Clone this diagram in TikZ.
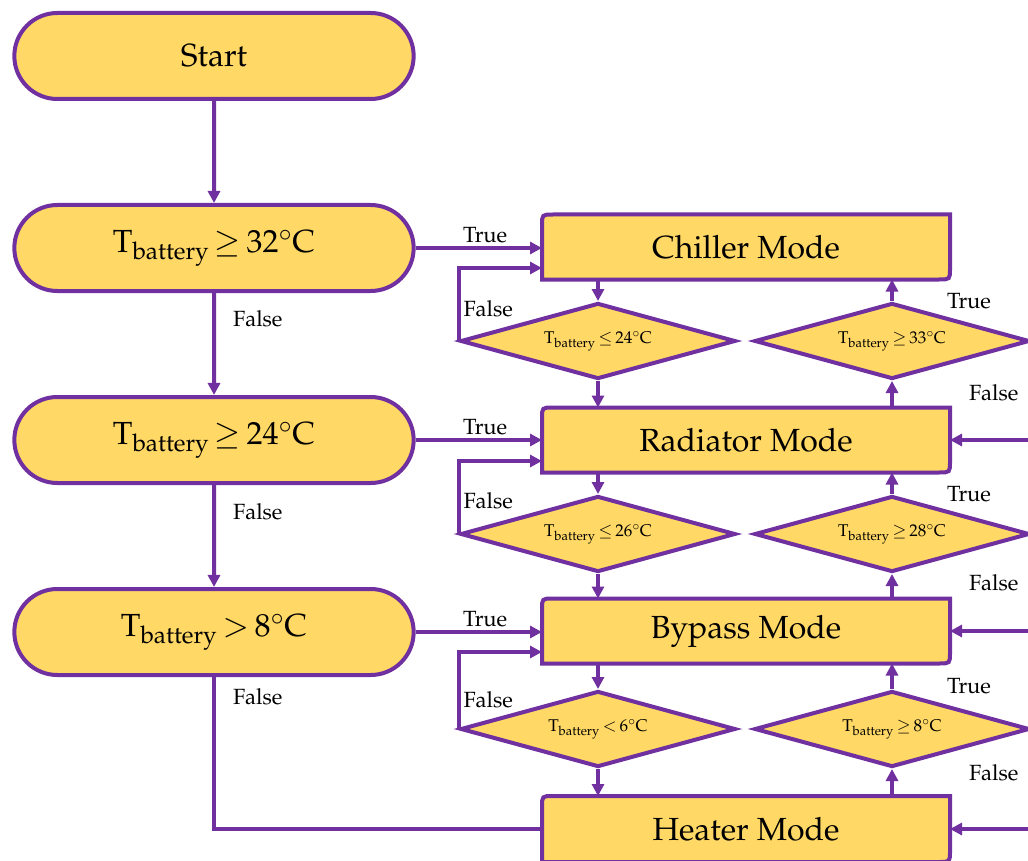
\documentclass[tikz,border=0pt]{standalone}
\usepackage[T1]{fontenc}
\usepackage{mathpazo}
\usetikzlibrary{shapes.misc,shapes.geometric,arrows.meta,backgrounds}

\definecolor{flowfill}{RGB}{255,216,102}
\definecolor{flowline}{RGB}{112,48,160}

\tikzset{
  term/.style={rounded rectangle, draw=flowline, fill=flowfill, line width=4pt,
    minimum width=406pt, minimum height=86pt, font=\fontsize{32}{38}\selectfont},
  modebox/.style={rectangle, minimum width=408pt, minimum height=65pt,
    inner sep=0pt, outer sep=0pt, font=\fontsize{32}{38}\selectfont},
  cond/.style={diamond, aspect=3.5, draw=flowline, fill=flowfill, line width=4pt,
    minimum width=275pt, minimum height=76pt, inner sep=0pt,
    font=\fontsize{17}{21}\selectfont},
  flow/.style={draw=flowline, line width=4pt, ->},
  lbl/.style={font=\fontsize{22}{26}\selectfont, inner sep=3pt},
}

\newcommand{\tbat}{\mathrm{T}_{\mathrm{battery}}}

\begin{document}
\begin{tikzpicture}[x=1pt, y=-1pt, >={Triangle[length=12pt,width=12pt]}]

        \useasboundingbox (0,0) rectangle (1028,861);

        \node[term] (start) at (214,56)  {Start};
        \node[term] (hot)   at (214,248) {$\tbat\,{\geq}\,32^{\circ}\mathrm{C}$};
        \node[term] (warm)  at (214,440) {$\tbat\,{\geq}\,24^{\circ}\mathrm{C}$};
        \node[term] (mild)  at (214,632) {$\tbat\,{>}\,8^{\circ}\mathrm{C}$};

        \node[modebox] (chiller)  at (746,247) {Chiller Mode};
        \node[modebox] (radiator) at (746,440) {Radiator Mode};
        \node[modebox] (bypass)   at (746,631) {Bypass Mode};
        \node[modebox, minimum height=66pt] (heater) at (746,829) {Heater Mode};

        \node[cond] (down1) at (598,341) {$\tbat\,{\leq}\,24^{\circ}\mathrm{C}$};
        \node[cond] (up1)   at (892,341) {$\tbat\,{\geq}\,33^{\circ}\mathrm{C}$};
        \node[cond] (down2) at (598,534) {$\tbat\,{\leq}\,26^{\circ}\mathrm{C}$};
        \node[cond] (up2)   at (892,534) {$\tbat\,{\geq}\,28^{\circ}\mathrm{C}$};
        \node[cond] (down3) at (598,729) {$\tbat\,{<}\,6^{\circ}\mathrm{C}$};
        \node[cond] (up3)   at (892,729) {$\tbat\,{\geq}\,8^{\circ}\mathrm{C}$};

        % mode boxes: top left and bottom right corners rounded
        \begin{scope}[on background layer]
        \foreach \m in {chiller,radiator,bypass,heater}
          \draw[draw=flowline, fill=flowfill, line width=4pt]
            (\m.north east) -- ([yshift=11pt]\m.south east)
            .. controls (\m.south east) .. ([xshift=-11pt]\m.south east)
            -- (\m.south west) -- ([yshift=-11pt]\m.north west)
            .. controls (\m.north west) .. ([xshift=11pt]\m.north west) -- cycle;
        \end{scope}

        \draw[flow] (start) -- (hot);
        \draw[flow] (hot) -- node[lbl, right=14pt, pos=0.25] {False} (warm);
        \draw[flow] (warm) -- node[lbl, right=14pt, pos=0.26] {False} (mild);
        \draw[flow, -] (mild.south) |- node[lbl, right=14pt, pos=0.065] {False} (heater.west);

        \draw[flow] (hot.east) -- node[lbl, above, pos=0.55] {True} (hot.east -| chiller.west);
        \draw[flow] (warm.east) -- node[lbl, above, pos=0.55] {True} (warm.east -| radiator.west);
        \draw[flow] (mild.east) -- node[lbl, above, pos=0.55] {True} (mild.east -| bypass.west);

        \draw[flow] (down1.west) |- node[lbl, right, pos=0.22] {False} ([yshift=-21pt]chiller.west);
        \draw[flow] (down2.west) |- node[lbl, right, pos=0.23] {False} ([yshift=-21pt]radiator.west);
        \draw[flow] (down3.west) |- node[lbl, right, pos=0.19] {False} ([yshift=-21pt]bypass.west);

        \draw[flow] (down1 |- chiller.south) -- (down1.north);
        \draw[flow] (down1.south) -- (down1 |- radiator.north);
        \draw[flow] (down2 |- radiator.south) -- (down2.north);
        \draw[flow] (down2.south) -- (down2 |- bypass.north);
        \draw[flow] (down3 |- bypass.south) -- (down3.north);
        \draw[flow] (down3.south) -- (down3 |- heater.north);

        \draw[flow] (up1 |- radiator.north) -- (up1.south);
        \draw[flow] (up1.north) -- node[lbl, pos=0, anchor=west, xshift=50pt] {True} (up1 |- chiller.south);
        \draw[flow] (up2 |- bypass.north) -- (up2.south);
        \draw[flow] (up2.north) -- node[lbl, pos=0, anchor=west, xshift=50pt] {True} (up2 |- radiator.south);
        \draw[flow] (up3 |- heater.north) -- (up3.south);
        \draw[flow] (up3.north) -- node[lbl, pos=0, anchor=west, xshift=50pt, yshift=3pt] {True} (up3 |- bypass.south);

        \draw[flow] (up1.east) |- node[lbl, pos=0.26, left=8pt] {False} (radiator.east);
        \draw[flow] (up2.east) |- node[lbl, pos=0.25, left=8pt] {False} (bypass.east);
        \draw[flow] (up3.east) |- node[lbl, pos=0.22, left=8pt] {False} (heater.east);

        \end{tikzpicture}
\end{document}
